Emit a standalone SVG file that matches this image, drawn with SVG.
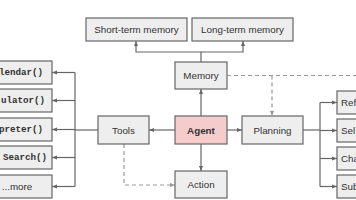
<svg xmlns="http://www.w3.org/2000/svg" width="356" height="200" viewBox="0 0 356 200">
<style>
.box{fill:#eeeeee;stroke:#666666;stroke-width:1.2}
.agent{fill:#f4cccc;stroke:#666666;stroke-width:1.2}
.t{font-family:"Liberation Sans",Arial,sans-serif;font-size:9.8px;fill:#333333;text-anchor:middle;dominant-baseline:central}
.tb{font-weight:bold}
.m{font-family:"Liberation Mono","Courier New",monospace;font-size:9.2px;font-weight:bold;fill:#333333;text-anchor:end;dominant-baseline:central}
.l{font-family:"Liberation Sans",Arial,sans-serif;font-size:9.8px;fill:#333333;dominant-baseline:central}
.c{fill:none;stroke:#666666;stroke-width:1.2}
.d{fill:none;stroke:#999999;stroke-width:1.2;stroke-dasharray:4 3}
</style>
<defs>
<marker id="a" viewBox="0 0 10 10" refX="10" refY="5" markerWidth="5" markerHeight="5" orient="auto" markerUnits="userSpaceOnUse">
<path d="M0,1 L10,5 L0,9 z" fill="#666666"/>
</marker>
<marker id="ad" viewBox="0 0 10 10" refX="10" refY="5" markerWidth="5" markerHeight="5" orient="auto" markerUnits="userSpaceOnUse">
<path d="M0,1 L10,5 L0,9 z" fill="#999999"/>
</marker>
</defs>
<g id="connectors">
<path class="c" d="M201,62 V52 H136 V41" marker-end="url(#a)"/>
<path class="c" d="M201,52 H243 V41" marker-end="url(#a)"/>
<path class="c" d="M201,116 V89" marker-end="url(#a)"/>
<path class="c" d="M201,144 V171" marker-end="url(#a)"/>
<path class="c" d="M175,130 H149" marker-end="url(#a)"/>
<path class="c" d="M227,130 H242" marker-end="url(#a)"/>
<path class="c" d="M98,130 H75"/>
<path class="c" d="M75,72.5 V186.5"/>
<path class="c" d="M75,72.5 H52" marker-end="url(#a)"/>
<path class="c" d="M75,100.5 H52" marker-end="url(#a)"/>
<path class="c" d="M75,129.5 H52" marker-end="url(#a)"/>
<path class="c" d="M75,157.5 H52" marker-end="url(#a)"/>
<path class="c" d="M75,186.5 H52" marker-end="url(#a)"/>
<path class="c" d="M303,130 H320"/>
<path class="c" d="M320,102.5 V186.5"/>
<path class="c" d="M320,102.5 H337" marker-end="url(#a)"/>
<path class="c" d="M320,130.5 H337" marker-end="url(#a)"/>
<path class="c" d="M320,158.5 H337" marker-end="url(#a)"/>
<path class="c" d="M320,186.5 H337" marker-end="url(#a)"/>
<path class="d" d="M227,75.5 H358"/>
<path class="d" d="M272,75.5 V116" marker-end="url(#ad)"/>
<path class="d" d="M124,144 V185 H175" marker-end="url(#ad)"/>
</g>
<g id="short-term-memory"><rect class="box" x="86" y="18" width="101" height="23"/><text class="t" x="136.5" y="29.5">Short-term memory</text></g>
<g id="long-term-memory"><rect class="box" x="192" y="18" width="101" height="23"/><text class="t" x="242.5" y="29.5">Long-term memory</text></g>
<g id="memory"><rect class="box" x="175" y="62" width="52" height="27"/><text class="t" x="201" y="75.5">Memory</text></g>
<g id="agent"><rect class="agent" x="175" y="116" width="52" height="28"/><text class="t tb" x="201" y="130">Agent</text></g>
<g id="tools"><rect class="box" x="98" y="116" width="51" height="28"/><text class="t" x="123.5" y="130">Tools</text></g>
<g id="planning"><rect class="box" x="242" y="116" width="61" height="28"/><text class="t" x="272.5" y="130">Planning</text></g>
<g id="action"><rect class="box" x="175" y="171" width="52" height="27"/><text class="t" x="201" y="184.5">Action</text></g>
<g id="calendar"><rect class="box" x="-20" y="61" width="72" height="23"/><text class="m" x="43" y="72.5">lendar()</text></g>
<g id="calculator"><rect class="box" x="-20" y="89" width="72" height="23"/><text class="m" x="45" y="100.5">ulator()</text></g>
<g id="interpreter"><rect class="box" x="-20" y="118" width="72" height="23"/><text class="m" x="43" y="129.5">preter()</text></g>
<g id="search"><rect class="box" x="-20" y="146" width="72" height="23"/><text class="m" x="47" y="157.5">Search()</text></g>
<g id="more"><rect class="box" x="-20" y="175" width="72" height="23"/><text class="t" x="17" y="186.5">...more</text></g>
<g id="reflection"><rect class="box" x="337" y="91" width="40" height="23"/><text class="l" x="341" y="102.5">Ref</text></g>
<g id="self-critics"><rect class="box" x="337" y="119" width="40" height="23"/><text class="l" x="341" y="130.5">Sel</text></g>
<g id="chain-of-thoughts"><rect class="box" x="337" y="147" width="40" height="23"/><text class="l" x="341" y="158.5">Cha</text></g>
<g id="subgoal"><rect class="box" x="337" y="175" width="40" height="23"/><text class="l" x="341" y="186.5">Sub</text></g>
</svg>
